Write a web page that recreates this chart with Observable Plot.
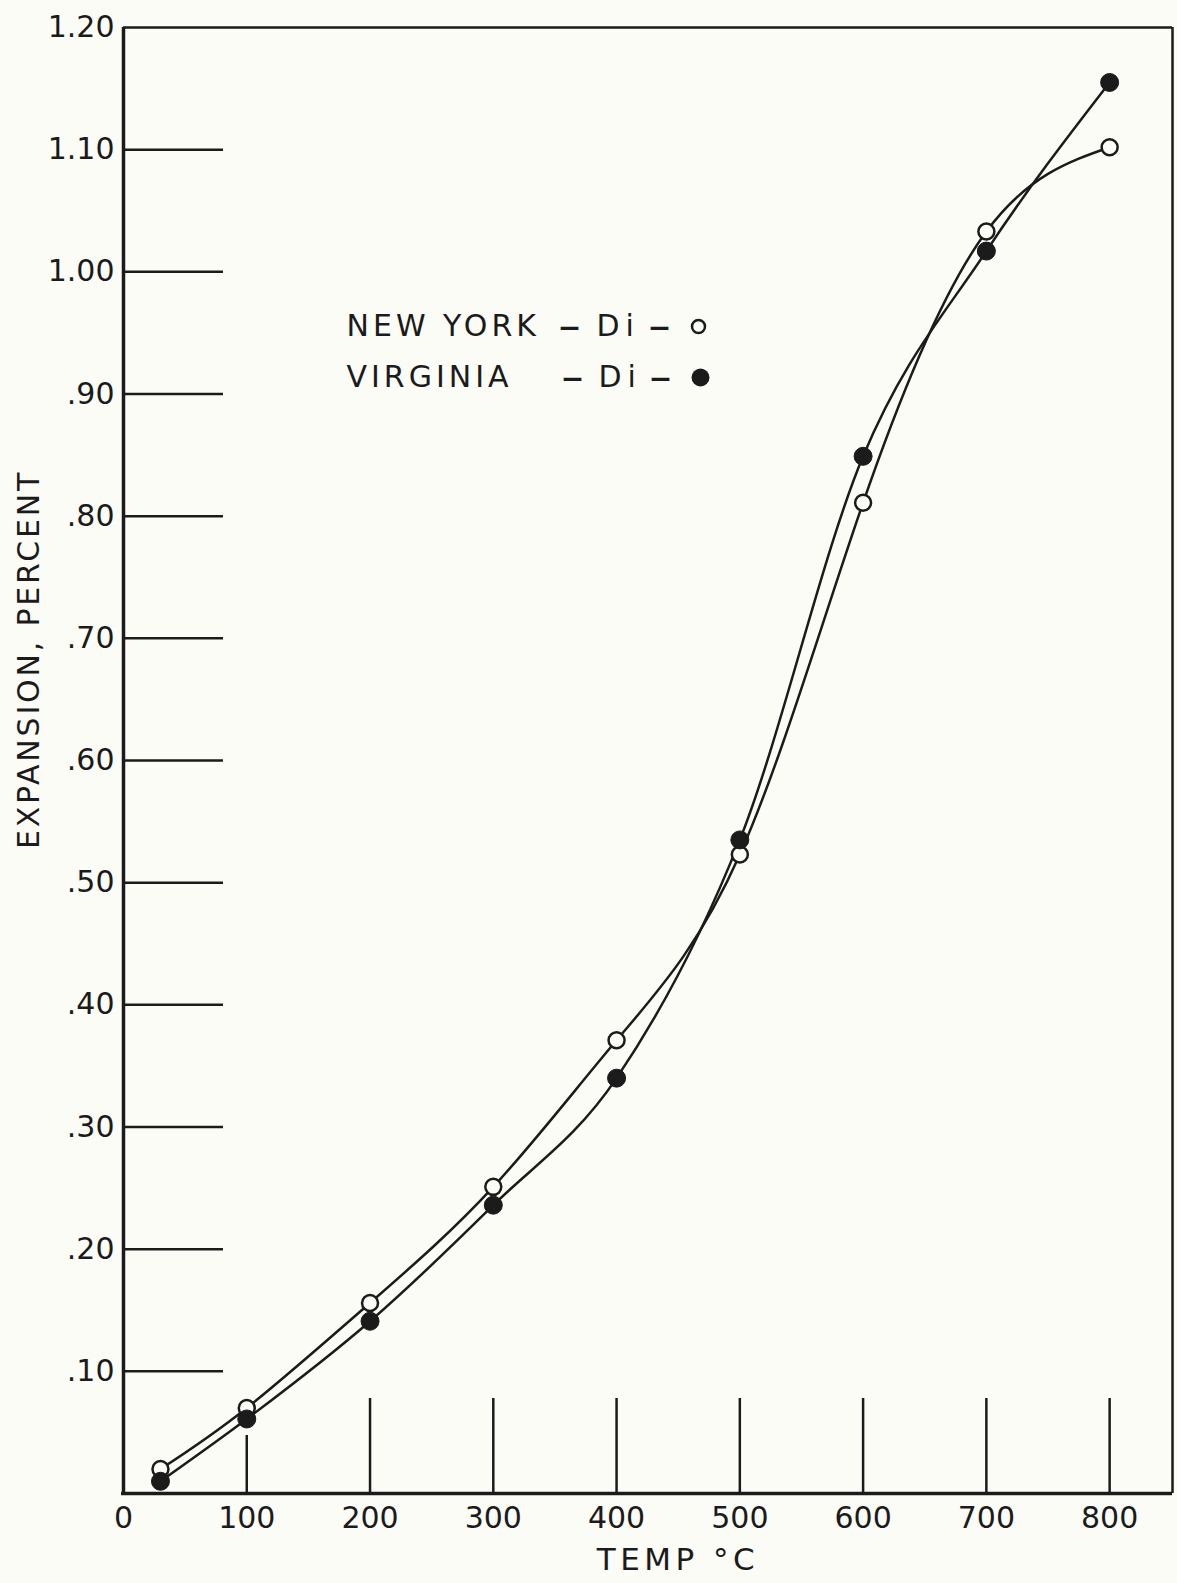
<!DOCTYPE html>
<html><head><meta charset="utf-8">
<script src="https://cdn.jsdelivr.net/npm/d3@7"></script>
<script src="https://cdn.jsdelivr.net/npm/@observablehq/plot@0.6"></script>
<style>
html,body{margin:0;padding:0;background:#fcfcf7;}
#chart{position:relative;width:1177px;height:1583px;}
</style></head><body><div id="chart"></div>
<script>
// ---- data ----
const temps = [30, 100, 200, 300, 400, 500, 600, 700, 800];
const newYork = [0.020, 0.070, 0.156, 0.251, 0.371, 0.523, 0.811, 1.033, 1.102];
const virginia = [0.010, 0.061, 0.141, 0.236, 0.340, 0.535, 0.849, 1.017, 1.155];
const xTicks = [0, 100, 200, 300, 400, 500, 600, 700, 800];
const yTicks = [0.1, 0.2, 0.3, 0.4, 0.5, 0.6, 0.7, 0.8, 0.9, 1.0, 1.1, 1.2];
const yTickLabels = [".10", ".20", ".30", ".40", ".50", ".60", ".70", ".80", ".90", "1.00", "1.10", "1.20"];
const xTitle = "TEMP °C";
const yTitle = "EXPANSION, PERCENT";
const legendNames = ["NEW YORK", "VIRGINIA"];
const legendDi = ["Di", "Di"];
const legendDash = ["–", "–", "–", "–"];

// ---- layout ----
const W = 1177, H = 1583;
const ml = 123, mt = 27, mr = 5, mb = 90;
const xMax = 851, yMax = 1.2;
const pxX = (W - ml - mr) / xMax;      // px per degree
const pxY = (H - mt - mb) / yMax;      // px per unit
const ink = "#1b1b1b", paper = "#fcfcf7";
// pixel -> data helpers for legend placement
const fx = px => (px - ml) / pxX;
const fy = py => (H - mb - py) / pxY;

const ny = temps.map((t, i) => ({t, v: newYork[i]}));
const va = temps.map((t, i) => ({t, v: virginia[i]}));
const innerY = yTicks.filter(d => d < yMax);
const innerX = xTicks.filter(d => d > 0);
const rowY = [326, 377];
const namePx = 346;
const diPx = [596, 598];
const dashPx = [569, 659, 572, 660];
const symPx = [698, 700];

const chart = Plot.plot({
  width: W, height: H,
  marginLeft: ml, marginTop: mt, marginRight: mr, marginBottom: mb,
  x: {domain: [0, xMax], axis: null},
  y: {domain: [0, yMax], axis: null},
  style: {fontFamily: "'DejaVu Sans', sans-serif", background: paper, color: ink, overflow: "visible"},
  marks: [
    // frame
    Plot.ruleY([yMax], {x1: 0, x2: xMax, stroke: ink, strokeWidth: 2.5}),
    Plot.ruleX([xMax], {y1: 0, y2: yMax, stroke: ink, strokeWidth: 2.5}),
    // inward ticks
    Plot.ruleY(innerY, {y: d => d, x1: 0, x2: 100 / pxX, stroke: ink, strokeWidth: 2.5}),
    Plot.ruleX(innerX, {x: d => d, y1: 0, y2: d => (d === 100 ? 58 : 95) / pxY, stroke: ink, strokeWidth: 2.5}),
    // axes lines
    Plot.ruleX([0], {y1: 0, y2: yMax, stroke: ink, strokeWidth: 3.5}),
    Plot.ruleY([0], {x1: -2 / pxX, x2: xMax, stroke: ink, strokeWidth: 3.5}),
    // tick labels
    Plot.text(yTicks, {x: 0, y: d => d, text: (d, i) => yTickLabels[i], textAnchor: "end", dx: -9, fontSize: 30, fill: ink}),
    Plot.text(xTicks, {x: d => d, y: 0, text: d => String(d), dy: 25, fontSize: 30, fill: ink}),
    // axis titles
    Plot.text([xTitle], {frameAnchor: "bottom", lineAnchor: "middle", textAnchor: "middle", dx: 30, dy: 67, fontSize: 31, fill: ink, className: "xtitle"}),
    Plot.text([yTitle], {frameAnchor: "left", lineAnchor: "middle", textAnchor: "middle", dx: -94, dy: -101, rotate: -90, fontSize: 30, fill: ink, className: "ytitle"}),
    // curves
    Plot.line(ny, {x: "t", y: "v", curve: "natural", stroke: ink, strokeWidth: 2.5}),
    Plot.line(va, {x: "t", y: "v", curve: "monotone-x", stroke: ink, strokeWidth: 2.5}),
    Plot.dot(ny, {x: "t", y: "v", r: 8, fill: paper, stroke: ink, strokeWidth: 2.5}),
    Plot.dot(va, {x: "t", y: "v", r: 9, fill: ink, stroke: ink, strokeWidth: 1}),
    // legend
    Plot.text(legendNames, {x: () => fx(namePx), y: (d, i) => fy(rowY[i]), textAnchor: "start", fontSize: 30, fill: ink, className: "lgname"}),
    Plot.text(legendDi, {x: (d, i) => fx(diPx[i]), y: (d, i) => fy(rowY[i]), textAnchor: "start", fontSize: 30, fill: ink, className: "lgdi"}),
    Plot.text(legendDash, {x: (d, i) => fx(dashPx[i]), y: (d, i) => fy(rowY[i >> 1]), textAnchor: "middle", fontSize: 44, fill: ink}),
    Plot.dot([0], {x: () => fx(symPx[0]), y: () => fy(rowY[0]), r: 6.5, fill: paper, stroke: ink, strokeWidth: 2.5}),
    Plot.dot([0], {x: () => fx(symPx[1]), y: () => fy(rowY[1]), r: 9, fill: ink})
  ]
});

const svg = d3.select(chart);
svg.selectAll(".lgname text").style("letter-spacing", "4px");
svg.selectAll(".lgdi text").style("letter-spacing", "6px");
svg.selectAll(".ytitle text").style("letter-spacing", "2.8px");
svg.selectAll(".xtitle text").style("letter-spacing", "4.5px");
document.getElementById("chart").appendChild(chart);
</script></body></html>
